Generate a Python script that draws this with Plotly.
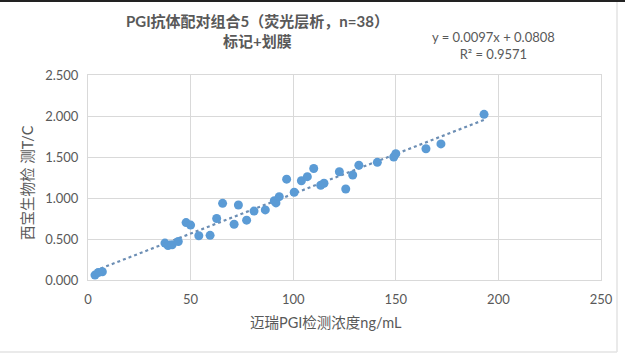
import plotly.graph_objects as go

# Data
x_mairui = [3.4, 5.0, 7.0, 37.5, 39.0, 41.0, 44.0,
            47.8, 50.0, 54.0, 59.5, 62.7, 65.6, 71.2, 73.3, 77.3, 80.9, 86.4, 90.8, 91.6, 93.2, 96.8, 100.5,
            104.0, 106.9, 110.0, 113.4, 115.0, 122.5, 125.6, 129.0, 132.0, 141.0, 149.0,
            150.0, 164.7, 172.0, 193.0]
y_xibao = [0.06, 0.09, 0.10, 0.45, 0.42, 0.43, 0.47,
           0.70, 0.67, 0.54, 0.545, 0.75, 0.935, 0.68, 0.915, 0.73, 0.84, 0.855, 0.967, 0.94, 1.016, 1.23, 1.07,
           1.21, 1.26, 1.36, 1.155, 1.18, 1.32, 1.11, 1.28, 1.40, 1.435, 1.50,
           1.54, 1.60, 1.66, 2.02]

slope = 0.0097
intercept = 0.0808
r2 = 0.9571

x_ticks = [0, 50, 100, 150, 200, 250]
y_ticks = [0.0, 0.5, 1.0, 1.5, 2.0, 2.5]

title_line1 = "PGI抗体配对组合5（荧光层析，n=38）"
title_line2 = "标记+划膜"
x_title = "迈瑞PGI检测浓度ng/mL"
y_title = "西宝生物检 测T/C"

FONT = "Lato, 'Noto Sans CJK SC', sans-serif"
GRAY = "#595959"
GRID = "#D9D9D9"
BLUE = "#5B9BD5"

trend_x = [min(x_mairui), max(x_mairui)]
trend_y = [slope * v + intercept for v in trend_x]

fig = go.Figure()
fig.add_trace(go.Scatter(
    x=trend_x, y=trend_y, mode="lines",
    line=dict(color="#6C8EB4", width=2.2, dash="dot"),
    hoverinfo="skip", showlegend=False))
fig.add_trace(go.Scatter(
    x=x_mairui, y=y_xibao, mode="markers",
    marker=dict(color=BLUE, size=9, line=dict(width=0)),
    showlegend=False))

fig.update_layout(
    width=625, height=354,
    margin=dict(l=88, r=24, t=75, b=74),
    paper_bgcolor="white", plot_bgcolor="white",
    font=dict(family=FONT, color=GRAY, size=13),
    xaxis=dict(range=[0, 250], tickvals=x_ticks, showgrid=True, gridcolor=GRID, gridwidth=1,
               showline=True, linecolor=GRID, mirror=True, zeroline=False,
               ticks="outside", ticklen=7, tickcolor="rgba(0,0,0,0)",
               tickfont=dict(size=13, color=GRAY, family=FONT)),
    yaxis=dict(range=[0, 2.5], tickvals=y_ticks, tickformat=".3f", showgrid=True, gridcolor=GRID,
               gridwidth=1, showline=True, linecolor=GRID, mirror=True, zeroline=False,
               ticks="outside", ticklen=6, tickcolor="rgba(0,0,0,0)",
               tickfont=dict(size=13, color=GRAY, family=FONT)),
    showlegend=False,
)

annotations = [
    dict(text="<b>" + title_line1 + "</b><br><b>" + title_line2 + "</b>",
         x=257, y=354 - 31, xref="paper", yref="paper", showarrow=False),
    dict(text="y = 0.0097x + 0.0808<br>R² = 0.9571",
         x=493, y=354 - 45, xref="paper", yref="paper", showarrow=False),
    dict(text=x_title, x=326, y=354 - 322, xref="paper", yref="paper", showarrow=False),
    dict(text=y_title, x=27, y=354 - 183, xref="paper", yref="paper", showarrow=False,
         textangle=-90),
]
# convert pixel positions to paper coordinates relative to plot area
pl, pr, pt, pb = 88, 601, 75, 280
out = []
for a in annotations:
    px, py = a["x"], a["y"]
    a["x"] = (px - pl) / (pr - pl)
    a["y"] = (py - (354 - pb)) / (pb - pt)
    a["xanchor"] = "center"
    a["yanchor"] = "middle"
    out.append(a)
out[0]["font"] = dict(size=15, color=GRAY, family=FONT)
out[1]["font"] = dict(size=13, color=GRAY, family=FONT)
out[2]["font"] = dict(size=14.5, color=GRAY, family=FONT)
out[3]["font"] = dict(size=14.5, color=GRAY, family=FONT)
fig.update_layout(annotations=out)

# chart-area framing lines
fig.add_shape(type="line", xref="paper", yref="paper",
              x0=(0 - pl) / (pr - pl), x1=(625 - pl) / (pr - pl),
              y0=(354 - 1 - (354 - pb)) / (pb - pt), y1=(354 - 1 - (354 - pb)) / (pb - pt),
              line=dict(color="#222222", width=2))
fig.add_shape(type="line", xref="paper", yref="paper",
              x0=(0 - pl) / (pr - pl), x1=(617 - pl) / (pr - pl),
              y0=(354 - 352 - (354 - pb)) / (pb - pt), y1=(354 - 352 - (354 - pb)) / (pb - pt),
              line=dict(color="#E3E3E3", width=1.5))
fig.add_shape(type="line", xref="paper", yref="paper",
              x0=(617 - pl) / (pr - pl), x1=(617 - pl) / (pr - pl),
              y0=(354 - 352 - (354 - pb)) / (pb - pt), y1=(354 - 2 - (354 - pb)) / (pb - pt),
              line=dict(color="#E3E3E3", width=1.5))

fig.write_html("out.html")
